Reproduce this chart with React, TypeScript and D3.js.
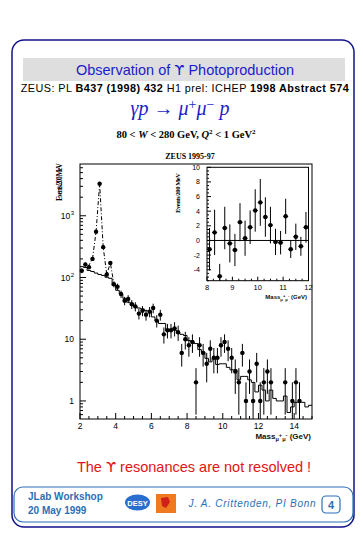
import React from 'react';
import * as d3 from 'd3';

// ---- main plot data (ZEUS 1995-97, events / 200 MeV) ----
const mainMass = [2.1, 2.3, 2.5, 2.7, 2.9, 3.1, 3.3, 3.5, 3.7, 3.9, 4.1, 4.3, 4.5, 4.7, 4.9, 5.1, 5.3, 5.5, 5.7, 5.9, 6.1, 6.3, 6.5, 6.7, 6.9, 7.1, 7.3, 7.5, 7.7, 7.9, 8.1, 8.3, 8.5, 8.7, 8.9, 9.1, 9.3, 9.5, 9.7, 9.9, 10.1, 10.3, 10.5, 10.7, 10.9, 11.1, 11.3, 11.5, 11.7, 11.9, 12.1, 12.3, 12.5, 12.7, 13.5, 13.9, 14.1, 14.3];
const mainCounts = [129, 162, 147, 200, 550, 3300, 310, 112, 172, 78, 71, 54, 42, 45, 37, 34, 26, 29, 25, 28, 32, 20, 25, 12, 14, 14, 15, 13, 6, 10, 8, 9, 2, 8, 6, 4, 7, 5, 5, 8, 9, 7, 5, 3, 2, 6, 1, 3, 1, 4, 1, 2, 3, 2, 2, 1, 2, 1];
const mainErrors = [11.4, 12.7, 12.1, 14.1, 23.5, 57, 17.6, 10.6, 13.1, 8.8, 8.4, 7.3, 6.5, 6.7, 6.1, 5.8, 5.1, 5.4, 5, 5.3, 5.7, 4.5, 5, 3.5, 3.7, 3.7, 3.9, 3.6, 2.4, 3.2, 2.8, 3, 1.4, 2.8, 2.4, 2, 2.6, 2.2, 2.2, 2.8, 3, 2.6, 2.2, 1.7, 1.4, 2.4, 1, 1.7, 1, 2, 1, 1.4, 1.7, 1.4, 1.4, 1, 1.4, 1];

// background (solid histogram), bins of 200 MeV from 2.0 to 15.0 GeV
const bgStart = 2.0;
const bgWidth = 0.2;
const bgValues = [150, 145, 130, 125, 118, 112, 108, 101, 97, 74, 62, 54, 46, 40, 38, 34, 32, 31, 29, 29, 23, 20, 18, 18, 14, 14, 14, 12.5, 12, 11.5, 9.5, 9, 8.5, 6.8, 6.2, 4.9, 4.3, 4.9, 3.9, 4.0, 4.0, 3.5, 3.2, 3.2, 2.2, 2.5, 2.5, 2.2, 2.0, 1.4, 1.8, 1.5, 1.0, 1.5, 1.1, 1.0, 1.0, 1.2, 0.65, 0.8, 0.95, 0.95, 0.95, 0.8, 0.85];

// dashed fit through the J/psi and psi' peaks
const fitMass = [2.45, 2.7, 2.9, 3.1, 3.3, 3.5, 3.7, 3.9, 4.1];
const fitValues = [150, 200, 550, 3300, 310, 112, 172, 80, 72];

// ---- inset: background-subtracted, 8-12 GeV ----
const insetMass = [8.1, 8.3, 8.5, 8.7, 8.9, 9.1, 9.3, 9.5, 9.7, 9.9, 10.1, 10.3, 10.5, 10.7, 10.9, 11.1, 11.3, 11.5, 11.7, 11.9];
const insetValues = [-1.2, 1.1, -4.9, 1.7, -0.4, -1.3, 2.5, 0.3, 1.8, 4.1, 5.2, 3.2, 2.1, -0.2, -0.3, 3.3, -1.2, 0.5, -0.8, 1.8];
const insetErrors = [2.9, 3.1, 1.7, 2.9, 2.6, 2.2, 2.6, 2.4, 2.3, 2.9, 3.2, 2.7, 2.5, 1.8, 1.6, 2.4, 1.2, 1.8, 1.3, 2.1];

const mainXTicks = [2, 4, 6, 8, 10, 12, 14];
const mainYTicks = [1, 10, 100, 1000];
const insetXTicks = [8, 9, 10, 11, 12];
const insetYTicks = [-4, -2, 0, 2, 4, 6, 8, 10];

const NAVY = '#12128a';
const TEAL = '#2a6fb5';
const sans = 'Liberation Sans, Arial, sans-serif';
const serif = 'Liberation Serif, Times New Roman, serif';
const ups = 'DejaVu Sans, sans-serif';

function MassLabel({ x, y, size, anchor }: { x: number; y: number; size: number; anchor: string }) {
  const s = size * 0.7;
  return (
    <text x={x} y={y} fontSize={size} fontFamily={sans} fontWeight="bold" textAnchor={anchor} fill="#111">
      Mass
      <tspan fontSize={s} dy={size * 0.3}>μ</tspan>
      <tspan fontSize={s} dy={-size * 0.6}>+</tspan>
      <tspan fontSize={s} dy={size * 0.6}>μ</tspan>
      <tspan fontSize={s} dy={-size * 0.6}>-</tspan>
      <tspan dy={size * 0.3}> (GeV)</tspan>
    </text>
  );
}

export default function App() {
  // main scales
  const x = d3.scaleLinear().domain([2, 15]).range([80, 312]);
  const y = d3.scaleLog().domain([0.51, 6900]).range([419, 164]);
  const [yb, yt] = [419, 164];
  const clampY = (v: number) => (v <= 0 ? yb : Math.min(yb, Math.max(yt, y(v))));

  // inset scales
  const xi = d3.scaleLinear().domain([8, 12]).range([207, 308.5]);
  const yi = d3.scaleLinear().domain([-5.5, 10]).range([280.7, 167.3]);
  const [iyb, iyt] = [280.7, 167.3];
  const clampYi = (v: number) => Math.min(iyb, Math.max(iyt, yi(v)));

  // histogram step path
  const bgPts: [number, number][] = [];
  bgValues.forEach((v, i) => {
    const lo = bgStart + i * bgWidth;
    bgPts.push([x(lo), y(v)]);
    bgPts.push([x(lo + bgWidth), y(v)]);
  });
  const bgPath = d3.line()(bgPts) || '';

  const fitPath = d3.line<number>().x((_, i) => x(fitMass[i])).y((v) => y(v))(fitValues) || '';

  // minor ticks
  const yMinor: number[] = [];
  [0.1, 1, 10, 100, 1000].forEach((d) => {
    for (let k = 2; k <= 9; k++) {
      const v = d * k;
      if (v >= 0.51 && v <= 6900) yMinor.push(v);
    }
  });
  const xMinor = d3.range(2, 15.001, 0.5).filter((v) => !mainXTicks.includes(v));
  const xiMinor = d3.range(8, 12.001, 0.25);
  const yiMinor = d3.range(-5.5, 10.001, 0.5);

  return (
    <svg width={363} height={535} style={{ position: 'absolute', left: 0, top: 0, background: '#fff' }}>
      <rect x={0} y={0} width={363} height={535} fill="#fff" />
      {/* outer slide border */}
      <rect x={12} y={40} width={342} height={487} rx={12} ry={12} fill="none" stroke={NAVY} strokeWidth={1.5} />
      {/* title bar */}
      <rect x={23} y={58} width={322} height={23} fill="#dedede" />
      <text x={185} y={75} textAnchor="middle" fontFamily={sans} fontSize={14.5} fill="#1c1cc8">
        Observation of <tspan fontFamily={ups}>ϒ</tspan> Photoproduction
      </text>
      {/* reference line */}
      <text x={185} y={92} textAnchor="middle" fontFamily={sans} fontSize={10.8} letterSpacing={0.45} fill="#000">
        ZEUS: PL <tspan fontWeight="bold">B437 (1998) 432</tspan>{'   '}H1 prel: ICHEP <tspan fontWeight="bold">1998 Abstract 574</tspan>
      </text>

      <text x={180} y={115} textAnchor="middle" fontFamily={serif} fontSize={20} fill="#1c1cc8" fontStyle="italic">
        γp <tspan fontStyle="normal">→</tspan> μ<tspan dy={-6} fontSize={14} fontStyle="normal">+</tspan><tspan dy={6}>μ</tspan><tspan dy={-6} fontSize={14} fontStyle="normal">−</tspan><tspan dy={6}> p</tspan>
      </text>
      <text x={186} y={138} textAnchor="middle" fontFamily={serif} fontSize={10.5} fontWeight="bold" fill="#000">
        80 &lt; <tspan fontStyle="italic">W</tspan> &lt; 280 GeV, <tspan fontStyle="italic">Q</tspan><tspan fontSize={7} dy={-4}>2</tspan><tspan dy={4}> &lt; 1 GeV</tspan><tspan fontSize={7} dy={-4}>2</tspan>
      </text>

      {/* ---------------- main plot ---------------- */}
      <text x={190} y={159} textAnchor="middle" fontFamily={serif} fontWeight="bold" fontSize={8} fill="#000">
        ZEUS 1995-97
      </text>
      <text transform="translate(62,182) rotate(-90)" textAnchor="middle" fontFamily={serif} fontWeight="bold" fontSize={7.5} textLength={38} fill="#000">
        Events/200 MeV
      </text>
      <rect x={80} y={164} width={232} height={255} fill="none" stroke="#000" strokeWidth={1} />
      {/* y ticks */}
      {mainYTicks.map((t) => (
        <line key={'ym' + t} x1={80} x2={86} y1={y(t)} y2={y(t)} stroke="#000" />
      ))}
      {yMinor.map((t) => (
        <line key={'yn' + t} x1={80} x2={83} y1={y(t)} y2={y(t)} stroke="#000" />
      ))}
      {mainYTicks.map((t) => {
        if (t === 1 || t === 10)
          return (
            <text key={'yl' + t} x={74} y={y(t) + 3} textAnchor="end" fontFamily={sans} fontSize={8.5} fill="#000">
              {t}
            </text>
          );
        return (
          <text key={'yl' + t} x={74} y={y(t) + 3} textAnchor="end" fontFamily={sans} fontSize={8.5} fill="#000">
            10<tspan dx={0.5} dy={-4} fontSize={6}>{Math.round(Math.log10(t))}</tspan>
          </text>
        );
      })}
      {/* x ticks */}
      {mainXTicks.map((t) => (
        <line key={'xm' + t} x1={x(t)} x2={x(t)} y1={419} y2={413} stroke="#000" />
      ))}
      {xMinor.map((t) => (
        <line key={'xn' + t} x1={x(t)} x2={x(t)} y1={419} y2={416} stroke="#000" />
      ))}
      {mainXTicks.map((t) => (
        <text key={'xl' + t} x={x(t)} y={429} textAnchor="middle" fontFamily={sans} fontSize={8.5} fill="#000">
          {t}
        </text>
      ))}
      <MassLabel x={311} y={439} size={8} anchor="end" />

      {/* background histogram */}
      <path d={bgPath} fill="none" stroke="#000" strokeWidth={1} />
      {/* fit */}
      <path d={fitPath} fill="none" stroke="#000" strokeWidth={1} strokeDasharray="4,2,1,2" />
      {/* data points */}
      {mainMass.map((m, i) => {
        const v = mainCounts[i];
        const e = mainErrors[i];
        const cx = x(m);
        const cy = y(v);
        return (
          <g key={'p' + i}>
            <line x1={cx} x2={cx} y1={clampY(v + e)} y2={clampY(v - e)} stroke="#000" strokeWidth={1} />
            <line x1={x(m - 0.1)} x2={x(m + 0.1)} y1={cy} y2={cy} stroke="#000" strokeWidth={1} />
            <circle cx={cx} cy={cy} r={2.2} fill="#000" />
          </g>
        );
      })}

      {/* ---------------- inset ---------------- */}
      <rect x={207} y={167.3} width={101.5} height={113.4} fill="#fff" stroke="#000" strokeWidth={1} />
      <text transform="translate(180,193) rotate(-90)" textAnchor="middle" fontFamily={serif} fontWeight="bold" fontSize={6.5} textLength={40} fill="#000">
        Events/200 MeV
      </text>
      {yiMinor.map((t) => (
        <line key={'iyn' + t} x1={207} x2={insetYTicks.includes(t) ? 211 : 209} y1={yi(t)} y2={yi(t)} stroke="#000" />
      ))}
      {insetYTicks.map((t) => (
        <text key={'iyl' + t} x={200} y={yi(t) + 2.5} textAnchor="end" fontFamily={sans} fontSize={7} fill="#000">
          {t}
        </text>
      ))}
      {xiMinor.map((t) => (
        <line key={'ixn' + t} x1={xi(t)} x2={xi(t)} y1={280.7} y2={insetXTicks.includes(t) ? 276.7 : 278.7} stroke="#000" />
      ))}
      {insetXTicks.map((t) => (
        <text key={'ixl' + t} x={xi(t)} y={290} textAnchor="middle" fontFamily={sans} fontSize={7.5} fill="#000">
          {t}
        </text>
      ))}
      <MassLabel x={307} y={299} size={6} anchor="end" />
      <line x1={207} x2={308.5} y1={yi(0)} y2={yi(0)} stroke="#000" strokeWidth={1} />
      {insetMass.map((m, i) => {
        const v = insetValues[i];
        const e = insetErrors[i];
        const cx = xi(m);
        const cy = yi(v);
        return (
          <g key={'ip' + i}>
            <line x1={cx} x2={cx} y1={clampYi(v + e)} y2={clampYi(v - e)} stroke="#000" strokeWidth={1} />
            <line x1={xi(m - 0.1)} x2={xi(m + 0.1)} y1={cy} y2={cy} stroke="#000" strokeWidth={1} />
            <circle cx={cx} cy={cy} r={2.2} fill="#000" />
          </g>
        );
      })}

      {/* red remark */}
      <text x={194} y={472} textAnchor="middle" fontFamily={sans} fontSize={14.5} fill="#e01515">
        The <tspan fontFamily={ups}>ϒ</tspan> resonances are not resolved !
      </text>

      {/* footer */}
      <rect x={14} y={487} width={339} height={35} rx={9} ry={9} fill="none" stroke={TEAL} strokeWidth={1.2} />
      <text x={28} y={500} fontFamily={sans} fontSize={10} fontWeight="bold" fill={TEAL}>JLab Workshop</text>
      <text x={28} y={514} fontFamily={sans} fontSize={10} fontWeight="bold" fill={TEAL}>20 May 1999</text>
      <ellipse cx={137.5} cy={502.5} rx={12.5} ry={8} fill="#2a6fd0" />
      <text x={137.5} y={505.5} textAnchor="middle" fontFamily={sans} fontSize={7.5} fontWeight="bold" fill="#fff">DESY</text>
      <rect x={156} y={494} width={20} height={19} fill="#f07a20" />
      <path d="M161,498 L168,497 L170,502 L166,508 L162,506 Z" fill="#d0201a" />
      <text x={252} y={507} textAnchor="middle" fontFamily={sans} fontSize={10} fontStyle="italic" fill={TEAL} textLength={127}>
        J. A. Crittenden, PI Bonn
      </text>
      <rect x={322} y={496} width={18} height={17} rx={4} ry={4} fill="none" stroke={TEAL} strokeWidth={1.2} />
      <text x={331} y={508.5} textAnchor="middle" fontFamily={sans} fontSize={11} fontWeight="bold" fill={TEAL}>4</text>
    </svg>
  );
}
